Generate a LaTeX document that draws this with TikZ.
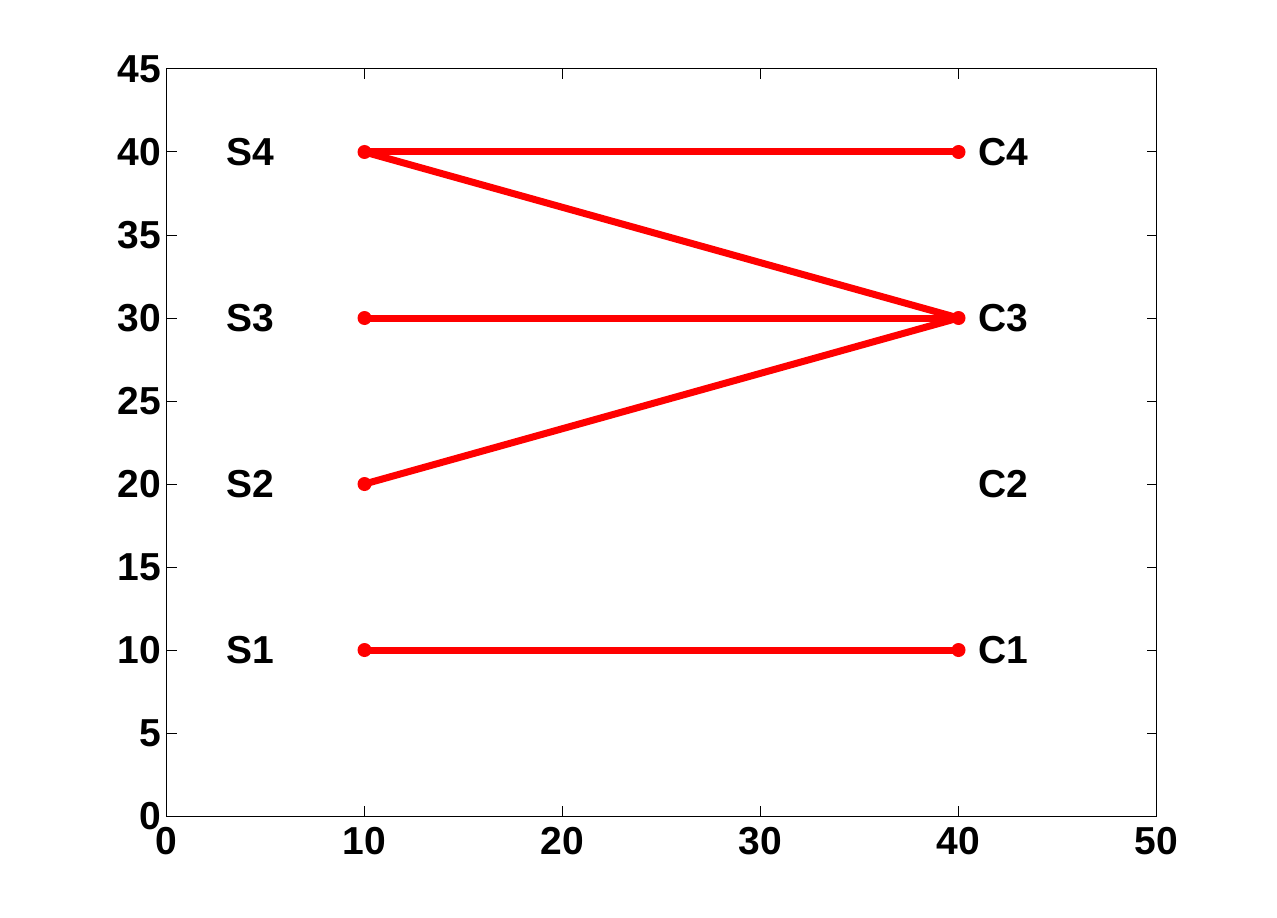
\documentclass[tikz,border=0pt]{standalone}
\usepackage{fontspec}
\setmainfont{Liberation Sans}
\begin{document}
\begin{tikzpicture}[x=9.9pt,y=8.3pt,
  ticklab/.style={font=\fontsize{19.5pt}{20pt}\selectfont\bfseries,inner sep=0pt},
  ptlab/.style={font=\fontsize{19.5pt}{20pt}\selectfont\bfseries,inner sep=0pt,anchor=west},
  link/.style={draw=red,line width=3.5pt},
  dot/.style={circle,fill=red,inner sep=0pt,minimum size=7pt}]
\useasboundingbox (-83.25pt,-50.5pt) rectangle (555.25pt,408pt);
\fill[white] (-83.25pt,-50.5pt) rectangle (555.25pt,408pt);
% axes box
\draw[line width=0.5pt] (0,0) rectangle (50,45);
\foreach \x in {10,20,30,40} {
  \draw[line width=0.5pt] (\x,0) -- ++(0,5pt);
  \draw[line width=0.5pt] (\x,45) -- ++(0,-5pt);
}
\foreach \y in {5,10,...,40} {
  \draw[line width=0.5pt] (0,\y) -- ++(5pt,0);
  \draw[line width=0.5pt] (50,\y) -- ++(-5pt,0);
}
\foreach \x in {0,10,...,50}
  \node[ticklab,anchor=north] (xl\x) at ([yshift=-5.5pt]\x,0) {\x};
\foreach \y in {0,5,...,45}
  \node[ticklab,anchor=east] (yl\y) at ([xshift=-2.4pt]0,\y) {\y};
% labels
\node[ptlab] (ls1) at (3,10) {S1};
\node[ptlab] (ls2) at (3,20) {S2};
\node[ptlab] (ls3) at (3,30) {S3};
\node[ptlab] (ls4) at (3,40) {S4};
\node[ptlab] (lc1) at (41,10) {C1};
\node[ptlab] (lc2) at (41,20) {C2};
\node[ptlab] (lc3) at (41,30) {C3};
\node[ptlab] (lc4) at (41,40) {C4};
% points
\coordinate (s1) at (10,10);
\coordinate (s2) at (10,20);
\coordinate (s3) at (10,30);
\coordinate (s4) at (10,40);
\coordinate (c1) at (40,10);
\coordinate (c3) at (40,30);
\coordinate (c4) at (40,40);
\draw[link] (s1) -- (c1);
\draw[link] (s2) -- (c3);
\draw[link] (s3) -- (c3);
\draw[link] (s4) -- (c3);
\draw[link] (s4) -- (c4);
\foreach \p in {s1,s2,s3,s4,c1,c3,c4}
  \node[dot] (d\p) at (\p) {};
\end{tikzpicture}
\end{document}
